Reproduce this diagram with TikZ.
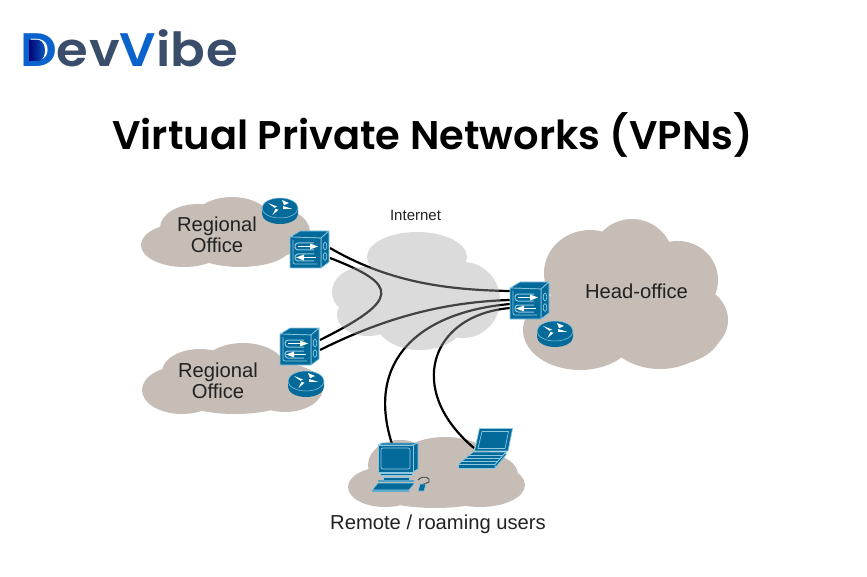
\documentclass[tikz,border=0pt]{standalone}
\usepackage{fontspec}
\setmainfont{Liberation Sans}
\newfontfamily\popsb{Poppins SemiBold}
\newfontfamily\logof{Poppins SemiBold}[FakeStretch=1.09]
\usetikzlibrary{calc}
\definecolor{cloudc}{HTML}{C5BDB6}
\definecolor{cisco}{HTML}{046A9A}
\definecolor{lite}{HTML}{8CC8E2}
\definecolor{slate}{HTML}{3A4D6B}
\definecolor{vblue}{HTML}{0A62CC}
\definecolor{txt}{HTML}{222222}
\tikzset{
 x=1pt,y=-1pt,
 link/.style={line width=2.2pt,black},
 lbl/.style={font=\fontsize{20.2}{20.5}\selectfont,text=txt,align=center,inner sep=0pt},
 lite line/.style={draw=lite,line width=.7pt,line join=round},
 firewall/.pic={
  \fill[cisco,lite line] (0,0)--(10,-6)--(39,-6)--(31,1)--cycle;
  \fill[cisco,lite line] (31,1)--(39,-6)--(39,25)--(31,31)--cycle;
  \fill[cisco,lite line] (0,0)--(31,1)--(31,31)--(0,31)--cycle;
  \draw[lite line,line width=1pt,rounded corners=3pt] (24,6)--(5,6)--(5,13)--(24,13);
  \draw[lite line,line width=1pt,rounded corners=3pt] (24,17)--(5,17)--(5,24)--(24,24);
  \draw[lite line,line width=.8pt,rounded corners=2pt] (3,3)--(3,27)--(27,27);
  \draw[white,line width=.9pt] (8,9.5)--(22,9.5) (12,20.5)--(26,20.5);
  \fill[white] (28,9.5)--(20,6.5)--(20,12.5)--cycle;
  \fill[white] (6,20.5)--(14,17.5)--(14,23.5)--cycle;
  \draw[lite line] (35,9) ellipse (1.8 and 3.8);
  \draw[lite line] (35,19.5) ellipse (1.8 and 3.8);
 },
 router/.pic={
  \fill[cisco] (-18,0)--(-18,6) arc[start angle=180,end angle=0,x radius=18,y radius=10]--(18,0)--cycle;
  \fill[cisco,draw=lite,line width=.5pt] (0,0) ellipse (18 and 10);
  \fill[white] (-12,-5)--(-3,-1.5)--(-5.5,-.2)--cycle;
  \fill[white] (12,.8)--(3,-2)--(3,1)--cycle;
  \fill[white] (2,-8)--(9,-5)--(4,-2.8)--cycle;
  \fill[white] (-7.5,7)--(-1.5,1.8)--(-4.5,.8)--cycle;
 },
}
\begin{document}
\begin{tikzpicture}
\useasboundingbox (0,0) rectangle (867,577);
\fill[white] (0,0) rectangle (867,577);
% logo
\node[anchor=base west,inner sep=0pt,font=\logof\fontsize{47}{47}\selectfont\addfontfeature{LetterSpace=1}] (logo) at (20,67)
 {\textcolor{vblue}{D}\textcolor{slate}{ev}\textcolor{vblue}{V}\textcolor{slate}{ibe}};
\fill[left color=black!10!blue!50!black,right color=vblue,draw=none] (29,40) -- (38,40) .. controls (47,41) and (47,60) .. (38,61) -- (29,61) -- cycle;
% title
\node[font=\popsb\fontsize{40}{44}\selectfont,anchor=base,inner sep=0pt,text=black] (title) at (432.5,150) {Virtual Private Networks (VPNs)};
% clouds
\fill[cloudc] (184,245) ellipse (43 and 22) (198,228) ellipse (38 and 24) (232,222) ellipse (40 and 25) (272,232) ellipse (38 and 25) (240,248) ellipse (50 and 19);
\fill[cloudc] (182,390) ellipse (40 and 24) (200,372) ellipse (38 and 23) (243,368) ellipse (42 and 25) (285,388) ellipse (38 and 24) (235,395) ellipse (60 and 19);
\fill[cloudc] (590,273) ellipse (46 and 43) (632,262) ellipse (42 and 43) (678,280) ellipse (40 and 39) (680,320) ellipse (48 and 38) (670,330) ellipse (52 and 35) (580,330) ellipse (57 and 40) (660,320) ellipse (60 and 49);
\fill[cloudc] (385,487) ellipse (37 and 20) (400,465) ellipse (32 and 25) (445,465) ellipse (50 and 28) (490,475) ellipse (28 and 20) (480,485) ellipse (45 and 22) (435,487) ellipse (70 and 21);
% anchors
\coordinate (r1a) at (330,248);
\coordinate (r1b) at (330,258);
\coordinate (r2a) at (320,340);
\coordinate (r2b) at (320,350);
\coordinate (h1) at (510,291);
\coordinate (h2) at (510,300);
\coordinate (h3) at (510,304);
\coordinate (h4) at (510,308);
\coordinate (pc) at (392,444);
\coordinate (lap) at (474,448);
% links
\draw[link] (r1a) .. controls (385,280) and (440,290) .. (h1);
\draw[link] (r1b) .. controls (400,285) and (400,300) .. (r2a);
\draw[link] (r2b) .. controls (380,320) and (440,302) .. (h2);
\draw[link] (h3) .. controls (420,312) and (365,360) .. (pc);
\draw[link] (h4) .. controls (430,315) and (405,390) .. (lap);
% internet cloud
\fill[fill=black!35,opacity=.4] (417,257) ellipse (50 and 25) (363,292) ellipse (31 and 25) (368,315) ellipse (31 and 21) (420,320) ellipse (45 and 30) (463,300) ellipse (37 and 38) (420,285) ellipse (55 and 40);
\node[font=\fontsize{15}{17}\selectfont,text=txt,inner sep=0pt] (inet) at (415.5,215) {Internet};
\node[lbl] (ro1) at (217,235) {Regional\\Office};
\node[lbl] (ro2) at (218,381) {Regional\\Office};
\node[lbl] (ho) at (636.5,291) {Head-office};
\node[lbl] (ru) at (438,524) {Remote / roaming users};
% devices
\pic at (290,237) {firewall};
\pic at (280,334) {firewall};
\pic at (510,288) {firewall};
\pic at (280,208) {router};
\pic at (306,381) {router};
\pic at (555,331) {router};
% computer
\draw[gray!50!black,line width=.9pt] (418,480) .. controls (424,474) and (431,478) .. (429,482) .. controls (427,484) and (424,483) .. (423,484);
\fill[cisco,lite line] (378,445)--(382,443)--(418,443)--(413,445)--cycle;
\fill[cisco,lite line] (413,445)--(418,443)--(418,469)--(413,472)--cycle;
\fill[cisco,lite line] (378,445) rectangle (413,472);
\draw[lite line,rounded corners=2pt] (381,448) rectangle (410,469);
\fill[cisco,lite line] (380,473)--(412,473)--(412,475)--(380,475)--cycle;
\fill[cisco,lite line] (383,477)--(409,477)--(409,480)--(383,480)--cycle;
\fill[lite!60!cisco] (378,480)--(414,480)--(414,481.5)--(378,481.5)--cycle;
\fill[cisco,lite line] (378,483)--(415,483)--(409,490)--(372,490)--cycle;
\fill[lite!70!cisco] (372,490)--(409,490)--(409,491.5)--(372,491.5)--cycle;
\fill[cisco,lite line] (420,484)--(426,484)--(424,491)--(418,491)--cycle;
% laptop
\fill[cisco,lite line] (479.5,428.5)--(512.5,428.5)--(508,451)--(474.5,451)--cycle;
\draw[lite line] (482,431.5)--(508.5,431.5)--(505,448.5)--(478,448.5)--cycle;
\fill[cisco,lite line] (473,452)--(506,452)--(495,464.5)--(458,464.5)--cycle;
\fill[cisco,lite line] (458,464.5)--(495,464.5)--(495,468)--(458,468)--cycle;
\fill[cisco,lite line] (506,452)--(506,455)--(495,468)--(495,464.5)--cycle;
\foreach \i in {1,...,3}{\draw[lite,line width=.3pt] (473-\i*3.6,452+\i*3.1)--(506-\i*2.75,452+\i*3.1);}
\end{tikzpicture}
\end{document}
